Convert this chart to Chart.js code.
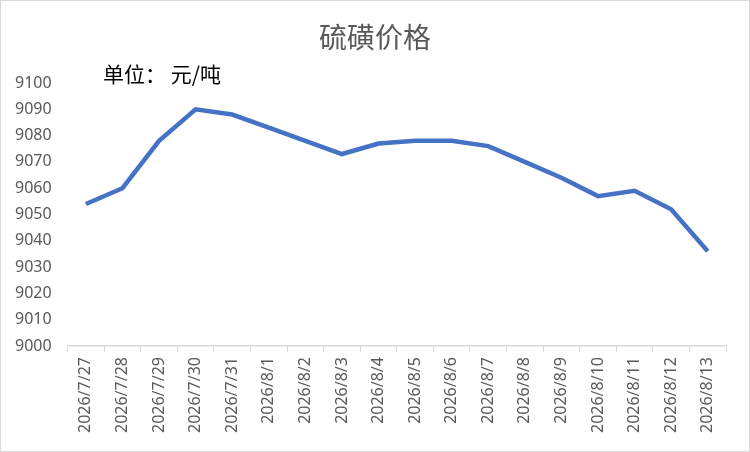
<!DOCTYPE html>
<html>
<head>
<meta charset="utf-8">
<script src="https://cdn.jsdelivr.net/npm/chart.js@4/dist/chart.umd.min.js"></script>
<style>
  html, body { margin: 0; padding: 0; background: #fff; }
  #wrap { position: relative; width: 748px; height: 450px; border: 1px solid #d9d9d9; }
</style>
</head>
<body>
<div id="wrap"><canvas id="myChart" width="748" height="450"></canvas></div>
<script>
// dates on the x axis
const dates = [
  "2026/7/27", "2026/7/28", "2026/7/29", "2026/7/30", "2026/7/31",
  "2026/8/1", "2026/8/2", "2026/8/3", "2026/8/4", "2026/8/5",
  "2026/8/6", "2026/8/7", "2026/8/8", "2026/8/9", "2026/8/10",
  "2026/8/11", "2026/8/12", "2026/8/13"
];
// sulphur price, yuan per ton
const prices = [
  9054, 9060, 9078, 9090, 9088,
  9083, 9078, 9073, 9077, 9078,
  9078, 9076, 9070, 9064, 9057,
  9059, 9052, 9036
];
// y axis range
const yMin = 9000;
const yMax = 9100;
const yStep = 10;

const fontFamily = "'Noto Sans CJK SC', 'Noto Sans', sans-serif";
const numFont = "'Noto Sans', 'Noto Sans CJK SC', sans-serif";

// title centred on the whole picture, plus the unit note under it
const headerText = {
  id: "headerText",
  afterDraw(chart) {
    const c = chart.ctx;
    c.save();
    c.textBaseline = "middle";
    c.textAlign = "center";
    c.font = "28px " + fontFamily;
    c.fillStyle = "#595959";
    c.fillText("硫磺价格", 374, 36);
    c.textAlign = "left";
    c.font = "21px " + fontFamily;
    c.fillStyle = "#000";
    c.fillText("单位： 元/吨", 102, 73);
    c.restore();
  }
};

const ctx = document.getElementById("myChart").getContext("2d");
new Chart(ctx, {
  type: "line",
  data: {
    labels: dates,
    datasets: [
      {
        label: "硫磺价格",
        data: prices,
        borderColor: "#4472C4",
        borderWidth: 4.5,
        pointRadius: 0,
        tension: 0,
        fill: false
      }
    ]
  },
  options: {
    responsive: false,
    animation: false,
    layout: { padding: { left: 6, right: 23, top: 82, bottom: 13 } },
    plugins: {
      legend: { display: false },
      tooltip: { enabled: false },
      title: { display: false }
    },
    scales: {
      x: {
        offset: true,
        grid: {
          offset: true,
          drawOnChartArea: false,
          drawTicks: true,
          tickLength: 6,
          color: "#d9d9d9"
        },
        border: { color: "#d9d9d9", width: 1.5 },
        ticks: {
          color: "#595959",
          font: { family: numFont, size: 16 },
          minRotation: 90,
          maxRotation: 90,
          autoSkip: false,
          padding: 5
        }
      },
      y: {
        min: yMin,
        max: yMax,
        grid: { display: false },
        border: { display: false },
        ticks: {
          stepSize: yStep,
          color: "#595959",
          font: { family: numFont, size: 16 },
          padding: 8,
          callback: (v) => String(v)
        }
      }
    }
  },
  plugins: [headerText]
});
</script>
</body>
</html>
